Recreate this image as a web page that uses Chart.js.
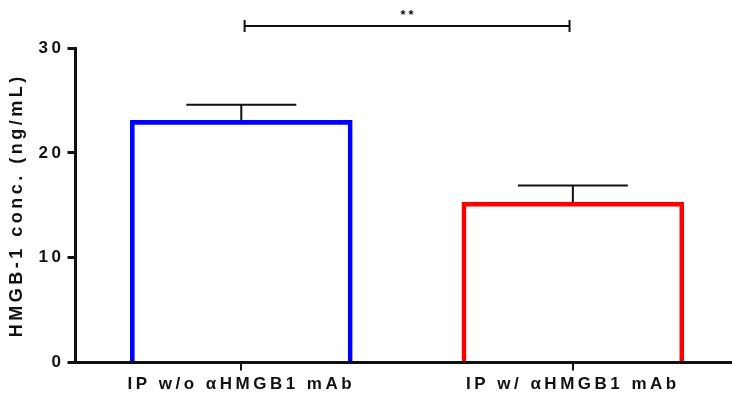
<!DOCTYPE html>
<html>
<head>
<meta charset="utf-8">
<script src="https://cdn.jsdelivr.net/npm/chart.js@4/dist/chart.umd.min.js"></script>
<style>
  html, body { margin: 0; padding: 0; background: #fff; }
  #wrap { width: 732px; height: 403px; }
</style>
</head>
<body>
<div id="wrap"><canvas id="chart"></canvas></div>
<script>
const categories = ['IP w/o \u03b1HMGB1 mAb', 'IP w/ \u03b1HMGB1 mAb'];
const means = [23.1, 15.3];
const sems = [1.5, 1.6];
const barColors = ['#0000ff', '#ff0000'];
const yTicks = [0, 10, 20, 30];
const significance = '**';

const FAMILY = '"Liberation Sans", Arial, sans-serif';
const FONT = { family: FAMILY, weight: 'bold', size: 17 };

// Prism-like spaced lettering
const spacing = {
    id: 'spacing',
    beforeUpdate(chart) { chart.ctx.letterSpacing = '3.5px'; },
    beforeDraw(chart) { chart.ctx.letterSpacing = '3.5px'; }
};

// upward SEM whiskers and the comparison bracket
const overlays = {
    id: 'overlays',
    afterDatasetsDraw(chart) {
        const { ctx, scales: { x, y } } = chart;
        ctx.save();
        ctx.strokeStyle = '#111';
        ctx.lineWidth = 2;
        means.forEach((m, i) => {
            const cx = x.getPixelForValue(i);
            const top = y.getPixelForValue(m + sems[i]);
            ctx.beginPath();
            ctx.moveTo(cx, y.getPixelForValue(m));
            ctx.lineTo(cx, top);
            ctx.moveTo(cx - 55, top);
            ctx.lineTo(cx + 55, top);
            ctx.stroke();
        });
        const by = y.getPixelForValue(32.1);
        const x0 = x.getPixelForValue(0.01);
        const x1 = x.getPixelForValue(0.99);
        ctx.beginPath();
        ctx.moveTo(x0, by); ctx.lineTo(x1, by);
        ctx.moveTo(x0, by - 6); ctx.lineTo(x0, by + 6);
        ctx.moveTo(x1, by - 6); ctx.lineTo(x1, by + 6);
        ctx.stroke();
        ctx.fillStyle = '#111';
        ctx.letterSpacing = '3px';
        ctx.font = 'bold 13px ' + FAMILY;
        ctx.textAlign = 'center';
        ctx.textBaseline = 'bottom';
        ctx.fillText(significance, (x0 + x1) / 2 + 1.5, by - 4);
        ctx.restore();
    }
};

new Chart(document.getElementById('chart'), {
    type: 'bar',
    data: {
        datasets: [{
            data: means.map((v, i) => ({ x: i, y: v })),
            backgroundColor: 'rgba(0,0,0,0)',
            borderColor: barColors,
            borderWidth: 4,
            borderSkipped: 'start',
            barThickness: 222
        }]
    },
    options: {
        responsive: true,
        maintainAspectRatio: false,
        animation: false,
        layout: { padding: { top: 48, right: 0, left: 6, bottom: 4 } },
        plugins: { legend: { display: false }, tooltip: { enabled: false } },
        scales: {
            x: {
                type: 'linear',
                offset: false,
                min: -0.5,
                max: 1.48,
                afterBuildTicks(scale) { scale.ticks = categories.map((c, i) => ({ value: i })); },
                ticks: {
                    callback: (v) => categories[v],
                    color: '#111',
                    font: FONT,
                    padding: 4,
                    maxRotation: 0,
                    autoSkip: false
                },
                grid: { offset: false, drawOnChartArea: false, color: '#111', lineWidth: 2, tickLength: 8 },
                border: { color: '#111', width: 3 }
            },
            y: {
                min: 0,
                max: 30,
                afterBuildTicks(scale) { scale.ticks = yTicks.map(v => ({ value: v })); },
                ticks: { color: '#111', font: FONT, padding: 3 },
                grid: { drawOnChartArea: false, color: '#111', lineWidth: 3, tickLength: 8 },
                border: { color: '#111', width: 3 },
                title: {
                    display: true,
                    text: 'HMGB-1 conc. (ng/mL)',
                    color: '#111',
                    font: { family: FAMILY, weight: 'bold', size: 18 },
                    padding: { top: 0, bottom: 8 }
                }
            }
        }
    },
    plugins: [spacing, overlays]
});
</script>
</body>
</html>
